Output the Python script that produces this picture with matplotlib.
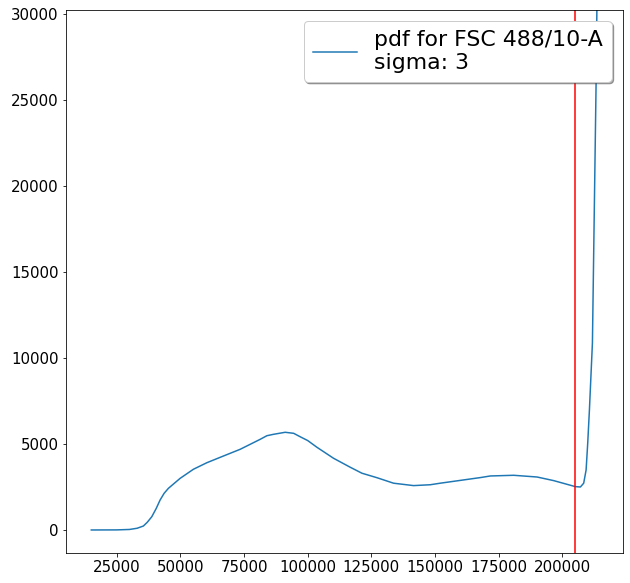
import matplotlib
matplotlib.use("Agg")
import matplotlib.pyplot as plt

# Estimated PDF curve values
x_vals = [15000, 25000, 30000, 33000, 35460, 37000, 38760, 40500, 42020, 43600, 45280,
          49880, 55110, 60380, 66900, 73470, 77400, 81330, 83970, 86500, 91160,
          94500, 97060, 100000, 103620, 110150, 116680, 121310, 127200, 133730,
          141590, 148160, 152090, 161250, 168000, 171740, 180900, 190100, 196630,
          205160, 207130, 208420, 209370, 210000, 210670, 211850, 213300, 213800]
y_vals = [0, 5, 30, 100, 230, 450, 770, 1250, 1740, 2130, 2420,
          3000, 3530, 3910, 4300, 4690, 4980, 5270, 5480, 5560, 5680,
          5620, 5420, 5200, 4810, 4170, 3650, 3300, 3040, 2720,
          2580, 2630, 2720, 2910, 3050, 3140, 3180, 3080, 2870,
          2520, 2500, 2720, 3490, 5040, 6980, 10870, 26060, 33000]
threshold = 205000
legend_label = "pdf for FSC 488/10-A\nsigma: 3"

fig = plt.figure(figsize=(630 / 72, 583 / 72), dpi=72)
ax = fig.add_axes([0.1043, 0.0515, 0.8841, 0.9313])
ax.plot(x_vals, y_vals, color="C0", linewidth=1.5, label=legend_label)
ax.axvline(threshold, color="red", linewidth=1.5)
ax.set_xlim(4950, 223740)
ax.set_ylim(-1337, 30230)
ax.tick_params(labelsize=15)
ax.legend(loc="upper right", fontsize=22, shadow=True, fancybox=True, framealpha=1)
fig.savefig("out.png", dpi=72)
